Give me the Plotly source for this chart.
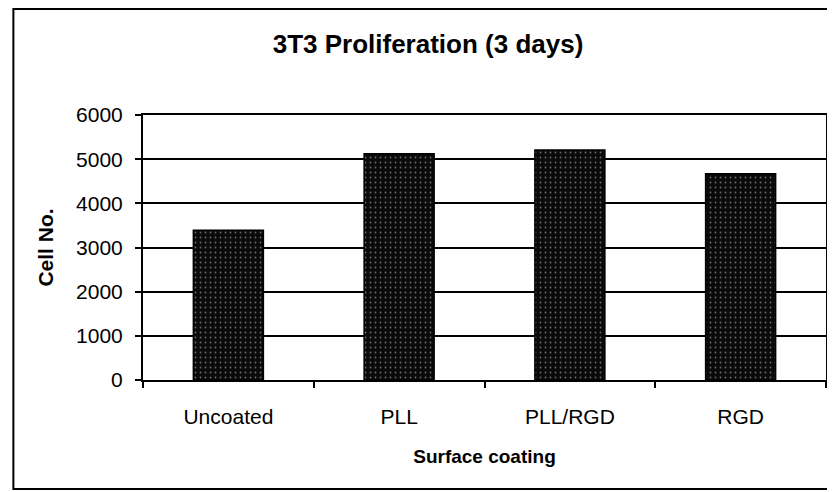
import plotly.graph_objects as go

# surface coatings and 3-day cell counts
coatings = ["Uncoated", "PLL", "PLL/RGD", "RGD"]
cell_counts = [3390, 5120, 5210, 4670]
y_ticks = [0, 1000, 2000, 3000, 4000, 5000, 6000]

FONT = "Arial, Liberation Sans, sans-serif"

# page body has an 8px margin, so the figure is a bit smaller than the window
W, H = 827, 484
L, T, R, B = 135, 107, 7, 112
pw, ph = W - L - R, H - T - B

fig = go.Figure()
fig.add_trace(go.Bar(
    x=coatings,
    y=cell_counts,
    marker=dict(
        color="#0a0a0a",
        line=dict(color="black", width=1.5),
        pattern=dict(shape=".", fgcolor="#cfcfcf", bgcolor="#0a0a0a", size=5, solidity=0.1),
    ),
    showlegend=False,
    hovertemplate="%{x}: %{y}<extra></extra>",
))

fig.update_layout(
    width=W,
    height=H,
    paper_bgcolor="white",
    plot_bgcolor="white",
    margin=dict(l=L, r=R, t=T, b=B),
    bargap=0.59,
    font=dict(family=FONT, color="black"),
    title=dict(
        text="<b>3T3 Proliferation (3 days)</b>",
        font=dict(size=26, family=FONT, color="black"),
        x=420 / W, xanchor="center", xref="container",
        y=1 - 36 / H, yanchor="middle", yref="container",
    ),
    shapes=[dict(
        type="rect", xref="paper", yref="paper",
        x0=(5 - L) / pw, x1=(840 - L) / pw,
        y0=-(481 - (H - B)) / ph, y1=1 + (T - 1) / ph,
        line=dict(color="black", width=2), layer="below",
    )],
)

fig.update_xaxes(
    showline=True, linecolor="black", linewidth=2, mirror=True,
    ticks="outside", ticklen=6, tickcolor="black", tickwidth=1.5,
    tickson="boundaries",
    tickfont=dict(size=21, family=FONT),
    ticklabelstandoff=17,
    title=dict(text="<b>Surface coating</b>", font=dict(size=19, family=FONT), standoff=22),
    showgrid=False,
)
fig.update_yaxes(
    range=[0, 6000],
    tickvals=y_ticks,
    ticktext=[str(v) for v in y_ticks],
    showline=True, linecolor="black", linewidth=2, mirror=True,
    ticks="outside", ticklen=6, tickcolor="black", tickwidth=1.5,
    tickfont=dict(size=21, family=FONT),
    ticklabelstandoff=8,
    showgrid=True, gridcolor="black", gridwidth=2,
    zeroline=False,
    title=dict(text="<b>Cell No.</b>", font=dict(size=21, family=FONT), standoff=17),
)

fig.write_html("out.html")
